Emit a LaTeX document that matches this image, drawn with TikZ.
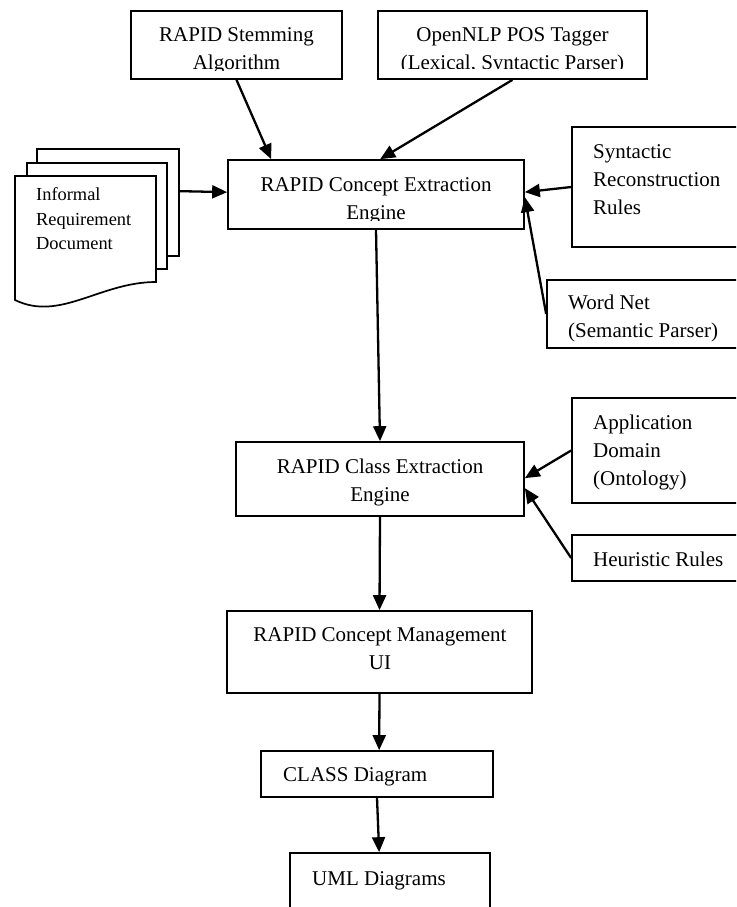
\documentclass[tikz,border=0pt]{standalone}
\usepackage{fontspec}
\setmainfont{Liberation Serif}
\usetikzlibrary{arrows.meta,calc}
\begin{document}
\begin{tikzpicture}[x=1pt,y=-1pt,
  box/.style={draw=black,line width=1.7pt,fill=white,inner sep=0pt,rectangle},
  lbl/.style={font=\fontsize{21}{28}\selectfont,inner sep=0pt,align=center,anchor=north},
  lbll/.style={font=\fontsize{21}{28}\selectfont,inner sep=0pt,align=left,anchor=north west},
  lbls/.style={font=\fontsize{21}{28}\selectfont,inner sep=0pt,anchor=base west},
  conn/.style={draw=black,line width=2.3pt,-{Triangle[length=15pt,width=13pt]}}]
\useasboundingbox (0,0) rectangle (736,907);
\clip (0,0) rectangle (736,907);

% top inputs
\node[box,minimum width=211pt,minimum height=68pt] (stem) at (236.5,45) {};
\begin{scope}\clip (131,11) rectangle (342,70);
\node[lbl] (stemtxt) at (236.5,27) {RAPID Stemming\\Algorithm};
\end{scope}
\node[box,minimum width=269pt,minimum height=68pt] (nlp) at (512.5,45) {};
\begin{scope}\clip (378,11) rectangle (647,69);
\node[lbl] (nlptxt) at (512.5,27) {OpenNLP POS Tagger\\(Lexical, Syntactic Parser)};
\end{scope}

% concept extraction
\node[box,minimum width=296pt,minimum height=69pt] (concept) at (376,194.5) {};
\begin{scope}\clip (228,160) rectangle (524,220);
\node[lbl] (concepttxt) at (376,177) {RAPID Concept Extraction\\Engine};
\end{scope}

% document stack
\node[box,minimum width=142pt,minimum height=107pt] (docback) at (108,202.5) {};
\node[box,minimum width=140pt,minimum height=106pt] (docmid) at (97,216) {};
\draw[line width=1.7pt,fill=white] (15,176) -- (156,176) -- (156,282)
  .. controls (100,282) and (60,322) .. (15,300) -- cycle;
\node[font=\fontsize{18.4}{24.5}\selectfont,align=left,anchor=north west,inner sep=0pt] (doctxt) at (36,187.5) {Informal\\Requirement\\Document};

% right inputs
\node[box,minimum width=188pt,minimum height=120pt] (syn) at (666,187) {};
\node[lbll] (syntxt) at (593,144) {Syntactic\\Reconstruction\\Rules};
\node[box,minimum width=213pt,minimum height=68pt] (wordnet) at (653.5,314) {};
\begin{scope}\clip (547,280) rectangle (760,341);
\node[lbll] (wordnettxt) at (568,295) {Word Net\\(Semantic Parser)};
\end{scope}

% class extraction
\node[box,minimum width=288pt,minimum height=74pt] (class) at (380,479) {};
\node[lbl] (classtxt) at (380,459) {RAPID Class Extraction\\Engine};
\node[box,minimum width=188pt,minimum height=105pt] (app) at (666,450.5) {};
\node[lbll] (apptxt) at (593,415) {Application\\Domain\\(Ontology)};
\node[box,minimum width=188pt,minimum height=46pt] (heur) at (666,558) {};
\node[lbls] (heurtxt) at (593,566) {Heuristic Rules};

% lower chain
\node[box,minimum width=305pt,minimum height=82pt] (ui) at (379.5,652) {};
\node[lbl] (uitxt) at (380,627) {RAPID Concept Management\\UI};
\node[box,minimum width=232pt,minimum height=46pt] (classd) at (377,774) {};
\node[lbls] (classdtxt) at (283,781) {CLASS Diagram};
\node[box,minimum width=200pt,minimum height=77pt] (uml) at (390,891.5) {};
\node[lbls] (umltxt) at (312,885) {UML Diagrams};

% connectors
\draw[conn] (stem.south) -- ($(concept.north west)+(44,0)$);
\draw[conn] (nlp.south) -- ($(concept.north west)+(153,0)$);
\draw[conn] ($(docback.north east)+(0,43)$) -- ($(concept.north west)+(0,33)$);
\draw[conn] (syn.west) -- ($(concept.north east)+(0,33)$);
\draw[conn] (wordnet.west) -- ($(concept.north east)+(0,38)$);
\draw[conn] (concept.south) -- (class.north);
\draw[conn] (app.west) -- ($(class.north east)+(0,37)$);
\draw[conn] (heur.west) -- ($(class.north east)+(0,47)$);
\draw[conn] (class.south) -- (ui.north);
\draw[conn] (ui.south) -- ($(classd.north west)+(119,0)$);
\draw[conn] (classd.south) -- ($(uml.north west)+(90,0)$);
\end{tikzpicture}
\end{document}
